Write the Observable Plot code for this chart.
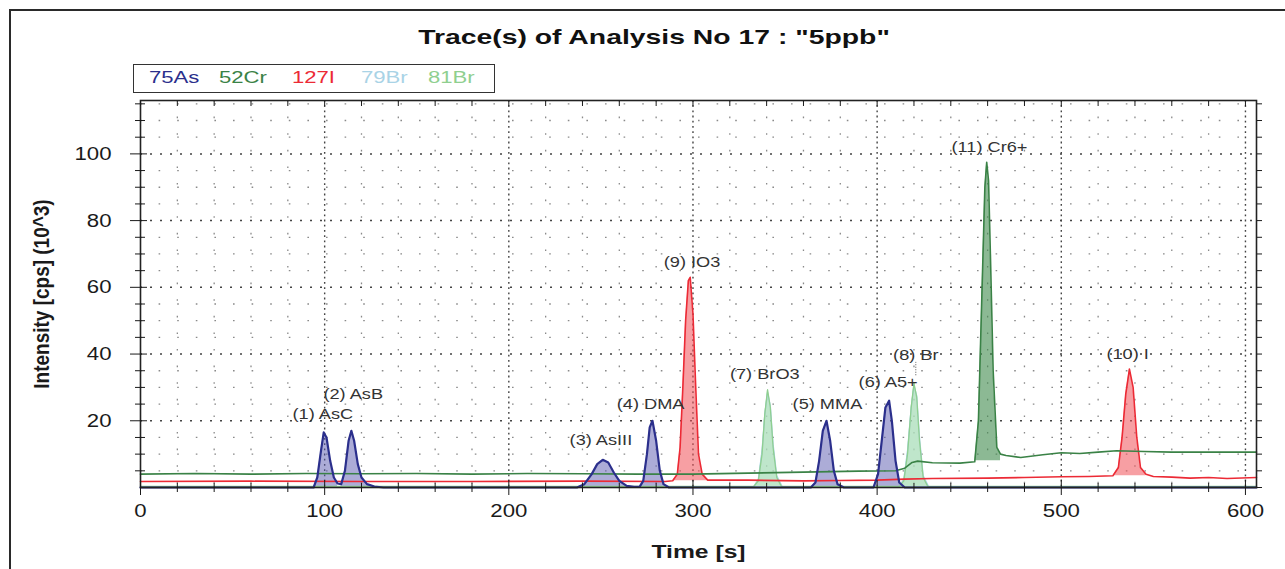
<!DOCTYPE html>
<html><head><meta charset="utf-8">
<script src="https://cdn.jsdelivr.net/npm/d3@7"></script>
<script src="https://cdn.jsdelivr.net/npm/@observablehq/plot@0.6"></script>
<style>
body{margin:0;background:#fff;width:1285px;height:569px;overflow:hidden;font-family:"Liberation Sans",Arial,sans-serif;}
#wrap{position:relative;width:1285px;height:569px;}
#border{position:absolute;left:9px;top:9px;width:1300px;height:600px;border-left:2px solid #2a2a2a;border-top:2px solid #2a2a2a;}
#title{position:absolute;left:0;top:25px;width:1308px;text-align:center;font-weight:bold;font-size:21px;color:#111;transform:scaleX(1.35);transform-origin:654px 0;}
#legend{position:absolute;left:133px;top:64px;width:360px;height:27px;border:1.5px solid #333;background:#fff;}
#legend span{position:absolute;top:3px;font-size:17px;transform:scaleX(1.3);transform-origin:0 0;}
#chart{position:absolute;left:0;top:0;}
g[aria-label="x-axis label"] text, g[aria-label="y-axis label"] text{font-weight:bold;}
g[aria-label="y-axis label"] text{font-size:19px;}
g[aria-label="x-axis label"] text{font-size:19px;}
</style></head><body>
<div id="wrap">
<div id="chart"></div>
<div id="border"></div>
<div id="title"></div>
<div id="legend"></div>
</div>
<script>
// ---- text ----
const titleText = 'Trace(s) of Analysis No 17 : "5ppb"';
const seriesNames = ["75As", "52Cr", "127I", "79Br", "81Br"];
const seriesColors = ["#2b2f8c", "#3a8246", "#ec2a35", "#a9d3e6", "#8fcf8f"];
const legendX = [148, 218, 291, 360, 427];

// ---- axes ----
const xTicks = [0, 100, 200, 300, 400, 500, 600];
const yTicks = [20, 40, 60, 80, 100];
const xLabel = "Time [s]";
const yLabel = "Intensity [cps] (10^3)";

// ---- traces (time s, intensity 10^3 cps) ----
const asTime = [0, 94, 96, 98, 99.5, 101, 103, 105, 107, 109, 111, 113, 114.5, 116, 118, 120, 123, 127, 132,
  237, 241, 245, 248, 251, 254, 257, 260, 264, 268, 271, 273, 275, 276.5, 278, 280, 282, 284, 287,
  364, 366.5, 368.5, 370.5, 372.5, 374.5, 376.5, 378.5, 382,
  398, 400.5, 402.5, 404.5, 406.5, 408, 410, 412, 415, 606];
const asVal = [0, 0, 3, 11, 16.5, 15, 8, 3, 1.2, 1, 5, 14, 17, 14, 7, 3, 1, 0.3, 0,
  0, 1, 4, 7, 8.3, 7.5, 4.5, 2, 0.5, 0.2, 0.2, 2, 10, 18, 20, 14, 5, 1, 0,
  0, 1.5, 8, 17, 20, 14, 5, 1, 0,
  0, 4, 14, 24, 26, 20, 8, 1.5, 0, 0];

const crTime = [0, 30, 60, 90, 120, 150, 180, 210, 240, 270, 300, 330, 360, 390, 410, 415, 419, 422, 430, 445,
  453, 455, 457, 458.5, 459.5, 460.5, 461.5, 463, 465, 467, 470, 478, 490, 500, 510, 520, 530, 545, 560, 580, 606];
const crVal = [4, 4.2, 4.0, 4.2, 4.1, 4.2, 4.0, 4.2, 4.1, 4.0, 4.0, 4.3, 4.6, 4.9, 5, 5.8, 7.5, 7.9, 7.4, 7.3,
  7.7, 20, 60, 90, 97.5, 92, 70, 35, 12, 10, 9.6, 9, 9.8, 10.4, 10.2, 10.6, 11, 10.8, 10.6, 10.6, 10.6];

const iTime = [0, 60, 120, 180, 240, 285, 289, 291.5, 293, 294.5, 296, 297.5, 298.5, 300, 301.5, 303, 305, 308,
  330, 360, 380, 400, 415, 430, 460, 480, 500, 515, 528, 531, 533, 535, 537, 539, 541, 543, 546, 550, 560, 570, 580, 590, 606];
const iVal = [1.8, 1.9, 1.8, 1.8, 1.9, 1.8, 2, 4, 12, 30, 50, 62, 63, 52, 30, 10, 4, 2.2,
  2.2, 2.0, 2.1, 2.2, 2.5, 2.7, 2.8, 3.0, 3.2, 3.3, 3.5, 6, 15, 28, 35.5, 30, 15, 6, 4, 3.3, 3.1, 2.8, 3.0, 2.7, 3.0];

const br79Time = [0, 333, 335.5, 337.5, 339, 340.5, 342, 343.5, 345.5, 348.5, 412, 414.5, 416.5, 418.5, 420, 421.5, 423, 425, 428, 606];
const br79Val = [0.2, 0.2, 2.5, 11, 22, 28.5, 24.5, 13, 3.5, 0.2, 0.2, 2.5, 11, 24, 30.5, 27.5, 15, 3.5, 0.2, 0.2];

const br81Time = [0, 333, 335.5, 337.5, 339, 340.5, 342, 343.5, 345.5, 348, 412, 414.5, 416.5, 418.5, 420, 421.5, 423, 425, 427.5, 606];
const br81Val = [0.3, 0.3, 2, 10, 22, 29.3, 24, 12, 3, 0.3, 0.3, 2, 10, 24, 31.2, 27, 14, 3, 0.3, 0.3];

// ---- peak labels ----
const peakNames = ["(1) AsC", "(2) AsB", "(3) AsIII", "(4) DMA", "(9) IO3", "(7) BrO3", "(5) MMA", "(6) A5+", "(8) Br", "(11) Cr6+", "(10) I"];
const peakLabelT = [99, 115.5, 250, 277, 299.5, 339, 373, 406, 421, 461, 536];
const peakLabelV = [22, 28, 14, 25, 67.5, 34, 25, 31.5, 39.5, 102, 40];
// short dotted leader under the (8) Br label
const leaderT = [421];
const leaderV1 = [33.5];
const leaderV2 = [37.5];

// ---- fill windows [series, start, end, base] ----
const fillSeries = ["75As", "75As", "75As", "75As", "75As", "75As", "127I", "127I", "52Cr", "79Br", "79Br", "81Br", "81Br"];
const fillStart = [94, 108, 237, 271, 364, 398, 289, 528, 453, 333, 412, 333, 412];
const fillEnd   = [108, 132, 268, 287, 382, 415, 308, 546, 467, 348.5, 428, 348, 427.5];
const fillBase  = [0, 0, 0, 0, 0, 0, 2, 3.5, 8, 0, 0, 0, 0];
const fillColors = {"75As": "#5a5ab0", "52Cr": "#3f8a4c", "127I": "#f05058", "79Br": "#b8dcec", "81Br": "#a8e0a8"};
const fillOpacity = {"75As": 0.5, "52Cr": 0.6, "127I": 0.55, "79Br": 0.5, "81Br": 0.55};

// ---- build ----
const mk = (ts, vs) => ts.map((t, i) => ({t, v: vs[i]}));
const traces = {
  "75As": mk(asTime, asVal),
  "52Cr": mk(crTime, crVal),
  "127I": mk(iTime, iVal),
  "79Br": mk(br79Time, br79Val),
  "81Br": mk(br81Time, br81Val)
};
const colorOf = Object.fromEntries(seriesNames.map((n, i) => [n, seriesColors[i]]));
const labels = peakNames.map((n, i) => ({n, t: peakLabelT[i], v: peakLabelV[i]}));
const leaders = leaderT.map((t, i) => ({t, v1: leaderV1[i], v2: leaderV2[i]}));

const xMinor = d3.range(0, 607, 20).filter(d => d % 100 !== 0);
const yMinor = d3.range(5, 116, 5).filter(d => d % 20 !== 0);
const xAllMinor = d3.range(0, 607, 20);
const yAll = d3.range(0, 116, 5);

const fillMarks = fillSeries.map((s, i) => {
  const data = traces[s].filter(d => d.t >= fillStart[i] && d.t <= fillEnd[i]);
  return Plot.areaY(data, {x: "t", y1: fillBase[i], y2: "v", fill: fillColors[s], fillOpacity: fillOpacity[s], curve: "linear"});
});
const lineOrder = ["79Br", "81Br", "127I", "52Cr", "75As"];
const lineWidth = {"75As": 2.2, "52Cr": 1.6, "127I": 1.6, "79Br": 1.3, "81Br": 1.3};
const lineMarks = lineOrder.map(s => Plot.line(traces[s], {x: "t", y: "v", stroke: colorOf[s], strokeWidth: lineWidth[s]}));

const chart = Plot.plot({
  width: 1285, height: 569,
  marginLeft: 140, marginRight: 29, marginTop: 100, marginBottom: 82,
  x: {domain: [0, 606]},
  y: {domain: [0, 116]},
  style: {fontFamily: '"Liberation Sans", Arial, sans-serif', fontSize: "18.5px", color: "#1a1a1a", background: "transparent"},
  marks: [
    Plot.ruleX(xMinor, {stroke: "#8a8a8a", strokeDasharray: "1.6,15", strokeWidth: 1.3}),
    Plot.ruleY(yMinor, {stroke: "#8a8a8a", strokeDasharray: "1.6,17", strokeWidth: 1.3}),
    Plot.ruleX(xTicks.filter(d => d > 0), {stroke: "#444", strokeDasharray: "1.8,3.4", strokeWidth: 1.4}),
    Plot.ruleY(yTicks, {stroke: "#444", strokeDasharray: "2,8", strokeWidth: 1.5}),
    ...fillMarks,
    ...lineMarks,
    Plot.ruleX(leaders, {x: "t", y1: "v1", y2: "v2", stroke: "#555", strokeDasharray: "1,1.5"}),
    Plot.text(labels, {x: "t", y: "v", text: "n", fontSize: 14, fill: "#333"}),
    Plot.frame({stroke: "#222", strokeWidth: 1.6}),
    Plot.axisY({ticks: yTicks, tickSize: 10, tickPadding: 19, tickFormat: d => String(d), label: yLabel, labelAnchor: "center", labelOffset: 108, labelArrow: "none"}),
    Plot.axisY({ticks: yTicks, tickSize: -7, text: null, label: null}),
    Plot.axisY({ticks: yMinor, tickSize: 5, text: null, label: null}),
    Plot.axisY({ticks: yMinor, tickSize: -5, text: null, label: null}),
    Plot.axisY({anchor: "right", ticks: yAll, tickSize: 5, text: null, label: null}),
    Plot.axisX({ticks: xTicks, tickSize: 8, tickPadding: 8, tickFormat: d => String(d), label: xLabel, labelAnchor: "center", labelOffset: 70, labelArrow: "none"}),
    Plot.axisX({ticks: xTicks, tickSize: -7, text: null, label: null}),
    Plot.axisX({ticks: xMinor, tickSize: 5, text: null, label: null}),
    Plot.axisX({ticks: xMinor, tickSize: -4, text: null, label: null}),
    Plot.axisX({anchor: "top", ticks: xAllMinor, tickSize: -5, text: null, label: null})
  ]
});
document.getElementById("chart").append(chart);

// widen glyphs horizontally (the reference lettering is stretched)
const num = /^-?\d+(\.\d+)?$/;
function stretch(sel, sx, sy) {
  chart.querySelectorAll(sel).forEach(g => g.querySelectorAll("text").forEach(t => {
    let pre = "";
    const xa = t.getAttribute("x"), ya = t.getAttribute("y");
    const nx = xa !== null && num.test(xa.trim()), ny = ya !== null && num.test(ya.trim());
    if (nx || ny) {
      pre = ` translate(${nx ? +xa : 0},${ny ? +ya : 0})`;
      if (nx) t.removeAttribute("x");
      if (ny) t.removeAttribute("y");
    }
    const tr = t.getAttribute("transform") || "";
    t.setAttribute("transform", `${tr}${pre} scale(${sx},${sy})`);
  }));
}
stretch('g[aria-label="y-axis tick label"]', 1.2, 1);
stretch('g[aria-label="x-axis tick label"]', 1.2, 1);
stretch('g[aria-label="text"]', 1.3, 1);
stretch('g[aria-label="x-axis label"]', 1.3, 1);
stretch('g[aria-label="y-axis label"]', 1.0, 1.2);

document.getElementById("title").textContent = titleText;
const lg = document.getElementById("legend");
seriesNames.forEach((n, i) => {
  const s = document.createElement("span");
  s.textContent = n;
  s.style.color = seriesColors[i];
  s.style.left = (legendX[i] - 133) + "px";
  lg.append(s);
});
</script>
</body></html>
